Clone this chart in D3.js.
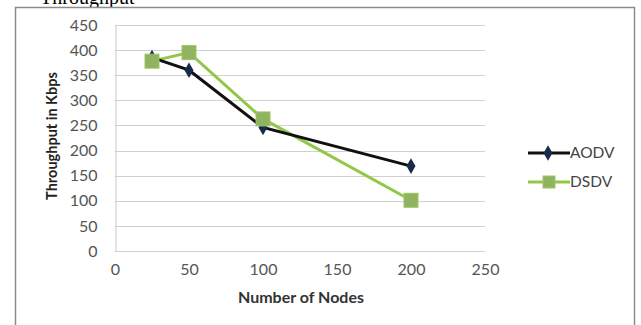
<!DOCTYPE html>
<html><head><meta charset="utf-8">
<script src="https://cdn.jsdelivr.net/npm/d3@7"></script>
<style>body{margin:0;background:#fff}svg{display:block}</style>
</head><body>
<script>
const nodes = [25, 50, 100, 200];
const aodv = [385, 360, 246, 169];
const dsdv = [378, 395, 263, 101];
const seriesNames = ["AODV", "DSDV"];
const xTicks = [0, 50, 100, 150, 200, 250];
const yTicks = [0, 50, 100, 150, 200, 250, 300, 350, 400, 450];

const W = 641, H = 325;
const svg = d3.select("body").append("svg").attr("width", W).attr("height", H);
const font = "Lato, 'Open Sans', sans-serif";

// caption fragment above the chart (cut by the page edge, as in the source)
svg.append("text").attr("x", 40).attr("y", 4).attr("font-family", "'Liberation Serif', serif")
  .attr("font-size", 20).attr("fill", "#000").text("Throughput");

// outer frame
svg.append("rect").attr("x", 15.5).attr("y", 7.5).attr("width", 619).attr("height", 330)
  .attr("fill", "#fff").attr("stroke", "#8c8c8c").attr("stroke-width", 1.5);

const x = d3.scaleLinear().domain([0, 250]).range([115, 485]);
const y = d3.scaleLinear().domain([0, 450]).range([251, 25]);

// gridlines
svg.append("g").selectAll("line").data(yTicks).join("line")
  .attr("x1", 115).attr("x2", 485).attr("y1", d => Math.round(y(d)) + 0.5).attr("y2", d => Math.round(y(d)) + 0.5)
  .attr("stroke", "#d0d0d0").attr("stroke-width", 1.2);

// y axis
const ya = svg.append("g").attr("transform", "translate(115.5,0)")
  .call(d3.axisLeft(y).tickValues(yTicks).tickSize(0).tickPadding(18));
ya.select(".domain").attr("stroke", "#c8c8c8");
ya.selectAll("text").attr("font-family", font).attr("font-size", 16).attr("fill", "#555");

// x axis labels
const xa = svg.append("g").attr("transform", "translate(0,251)")
  .call(d3.axisBottom(x).tickValues(xTicks).tickSize(0).tickPadding(13));
xa.select(".domain").remove();
xa.selectAll("text").attr("font-family", font).attr("font-size", 16).attr("fill", "#555");

// axis titles
svg.append("text").attr("x", 301).attr("y", 303).attr("text-anchor", "middle")
  .attr("font-family", font).attr("font-size", 16).attr("font-weight", "bold").attr("fill", "#333")
  .text("Number of Nodes");
svg.append("text").attr("transform", "translate(57,136) rotate(-90)").attr("text-anchor", "middle")
  .attr("font-family", font).attr("font-size", 14.5).attr("font-weight", "bold").attr("fill", "#222")
  .text("Throughput in Kbps");

const line = d3.line().x(d => x(d[0])).y(d => y(d[1]));
const dA = nodes.map((n, i) => [n, aodv[i]]);
const dD = nodes.map((n, i) => [n, dsdv[i]]);

const green = "#92c847", sq = "#8fb35e", dark = "#111", dia = "#1c2a4a";

svg.append("path").datum(dD).attr("d", line).attr("fill", "none").attr("stroke", green).attr("stroke-width", 3);
svg.append("path").datum(dA).attr("d", line).attr("fill", "none").attr("stroke", dark).attr("stroke-width", 3);

const diamond = d3.symbol().type(d3.symbolDiamond).size(70);
svg.append("g").selectAll("path").data(dA).join("path")
  .attr("transform", d => `translate(${x(d[0])},${y(d[1])})`).attr("d", diamond).attr("fill", dia);
svg.append("g").selectAll("rect").data(dD).join("rect")
  .attr("x", d => x(d[0]) - 7).attr("y", d => y(d[1]) - 7).attr("width", 14).attr("height", 14)
  .attr("fill", sq).attr("stroke", "#9fc46a").attr("stroke-width", 1);

// legend
const leg = [{n: seriesNames[0], y: 153, c: dark}, {n: seriesNames[1], y: 182, c: green}];
leg.forEach((l, i) => {
  svg.append("line").attr("x1", 528).attr("x2", 570).attr("y1", l.y).attr("y2", l.y)
    .attr("stroke", l.c).attr("stroke-width", 3);
  if (i === 0) {
    svg.append("path").attr("transform", `translate(548,${l.y})`).attr("d", diamond).attr("fill", dia);
  } else {
    svg.append("rect").attr("x", 543).attr("y", l.y - 6).attr("width", 12).attr("height", 12)
      .attr("fill", sq).attr("stroke", "#9fc46a");
  }
  svg.append("text").attr("x", 570).attr("y", l.y).attr("dy", "0.35em")
    .attr("font-family", font).attr("font-size", 15.5).attr("fill", "#444").text(l.n);
});
</script>
</body></html>
